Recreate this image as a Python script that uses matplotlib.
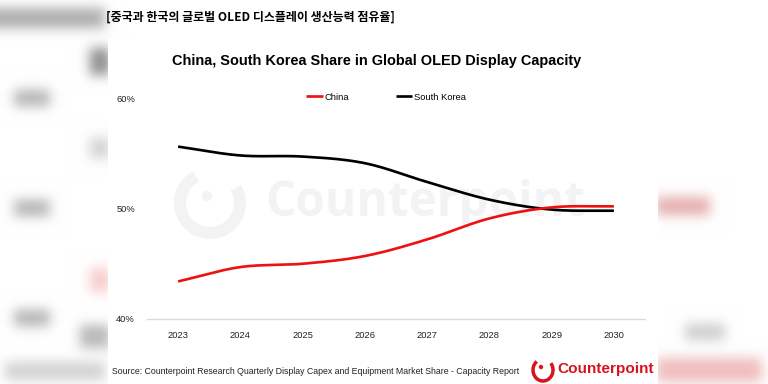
import numpy as np
import matplotlib
matplotlib.use("Agg")
import matplotlib.pyplot as plt
from matplotlib.patches import Rectangle, Arc, Ellipse

years = ["2023", "2024", "2025", "2026", "2027", "2028", "2029", "2030"]
china = [43.4, 44.7, 45.0, 45.7, 47.2, 49.1, 50.1, 50.2]
korea = [55.6, 54.8, 54.7, 54.1, 52.4, 50.8, 49.9, 49.8]
yticks = [40, 50, 60]
ytick_labels = ["40%", "50%", "60%"]

W, H = 768, 384
fig = plt.figure(figsize=(W / 96, H / 96), dpi=96)

# blurred background decoration
img = np.ones((H, W, 3))
blobs = [
    (0, 8, 105, 28, (0.68, 0.68, 0.68)),
    (14, 90, 50, 106, (0.7, 0.7, 0.7)),
    (14, 200, 50, 216, (0.7, 0.7, 0.7)),
    (14, 310, 50, 326, (0.7, 0.7, 0.7)),
    (90, 48, 110, 75, (0.55, 0.55, 0.55)),
    (90, 138, 110, 158, (0.82, 0.82, 0.82)),
    (90, 268, 110, 292, (0.97, 0.8, 0.8)),
    (80, 325, 110, 348, (0.72, 0.72, 0.72)),
    (5, 362, 105, 380, (0.82, 0.82, 0.82)),
    (656, 197, 710, 215, (0.9, 0.68, 0.68)),
    (685, 324, 725, 340, (0.8, 0.8, 0.8)),
    (656, 358, 762, 382, (0.94, 0.74, 0.74)),
]
for x0, y0, x1, y1, c in blobs:
    img[y0:y1, x0:x1] = c
R = 20
k = np.exp(-0.5 * (np.arange(-R, R + 1) / 6.0) ** 2)
k /= k.sum()
for ch in range(3):
    a = img[:, :, ch]
    a = np.apply_along_axis(lambda r: np.convolve(np.pad(r, R, mode="edge"), k, mode="valid"), 1, a)
    a = np.apply_along_axis(lambda r: np.convolve(np.pad(r, R, mode="edge"), k, mode="valid"), 0, a)
    img[:, :, ch] = a
fig.figimage(img, xo=0, yo=0, origin="upper", zorder=0)

def fx(px):
    return px / W

def fy(py):
    return 1 - py / H

# white panel
fig.patches.append(Rectangle((fx(108), 0), fx(658) - fx(108), fy(38), transform=fig.transFigure,
                             facecolor="white", edgecolor="none", zorder=1))

# watermark
wm = "#f3f3f3"
fig.patches.append(Arc((fx(210), fy(203)), 60 / W, 60 / H, theta1=105, theta2=410, transform=fig.transFigure,
                       edgecolor=wm, linewidth=9, zorder=1.5))
fig.patches.append(Ellipse((fx(207), fy(196)), 10 / W, 10 / H, transform=fig.transFigure,
                           facecolor=wm, edgecolor="none", zorder=1.5))
fig.text(fx(265), fy(203), "Counterpoint", fontsize=35.8, fontweight="bold", color=wm,
         family="Open Sans", va="center", ha="left", zorder=1.5)

# axes
ax = fig.add_axes([fx(147), fy(319), fx(645) - fx(147), fy(98) - fy(319)])
ax.set_facecolor("none")
ax.set_zorder(2)

def smooth(xs, ys, n=40):
    xs = np.asarray(xs, float); ys = np.asarray(ys, float)
    px = np.concatenate([[2 * xs[0] - xs[1]], xs, [2 * xs[-1] - xs[-2]]])
    py = np.concatenate([[2 * ys[0] - ys[1]], ys, [2 * ys[-1] - ys[-2]]])
    ox, oy = [], []
    for i in range(1, len(px) - 2):
        t = np.linspace(0, 1, n, endpoint=False)
        for P, out in ((px, ox), (py, oy)):
            p0, p1, p2, p3 = P[i - 1], P[i], P[i + 1], P[i + 2]
            b1 = p1 + (p2 - p0) / 6
            b2 = p2 - (p3 - p1) / 6
            out.extend((1 - t) ** 3 * p1 + 3 * (1 - t) ** 2 * t * b1 + 3 * (1 - t) * t ** 2 * b2 + t ** 3 * p2)
    ox.append(xs[-1]); oy.append(ys[-1])
    return np.array(ox), np.array(oy)

xi = np.arange(len(years))
sx, sy = smooth(xi, korea)
ax.plot(sx, sy, color="black", linewidth=2, label="South Korea", solid_capstyle="butt")
sx, sy = smooth(xi, china)
ax.plot(sx, sy, color="#ee1111", linewidth=2, label="China", solid_capstyle="butt")

ax.set_xlim(-0.5, len(years) - 0.5)
ax.set_ylim(40, 60)
ax.set_xticks(xi)
ax.set_xticklabels(years, fontsize=7, family="Liberation Sans", color="#222222")
ax.set_yticks(yticks)
ax.set_yticklabels(ytick_labels, fontsize=7, family="Liberation Sans", color="#222222")
ax.tick_params(length=0, pad=9)
for s in ["top", "right", "left"]:
    ax.spines[s].set_visible(False)
ax.spines["bottom"].set_color("#d9d9d9")
ax.spines["bottom"].set_linewidth(1)

h, l = ax.get_legend_handles_labels()
leg = fig.legend([h[1], h[0]], [l[1], l[0]], loc="center", bbox_to_anchor=(fx(386), fy(97)), ncol=2,
                 frameon=False, prop={"family": "Liberation Sans", "size": 7},
                 handlelength=1.8, handletextpad=0.15, columnspacing=5.0)

fig.text(fx(377), fy(61), "China, South Korea Share in Global OLED Display Capacity", fontsize=10.9,
         fontweight="bold", family="Liberation Sans", ha="center", va="center", zorder=3)
fig.text(fx(106), fy(17), "[중국과 한국의 글로벌 OLED 디스플레이 생산능력 점유율]", fontsize=9.0,
         fontweight="bold", family=["Noto Sans CJK KR", "DejaVu Sans"], ha="left", va="center", zorder=3)
fig.text(fx(112), fy(372), "Source: Counterpoint Research Quarterly Display Capex and Equipment Market Share - Capacity Report",
         fontsize=6.55, family="Liberation Sans", ha="left", va="center", color="#222222", zorder=3)

red = "#d7141f"
fig.patches.append(Arc((fx(543), fy(370)), 20 / W, 22 / H, theta1=110, theta2=420, transform=fig.transFigure,
                       edgecolor=red, linewidth=2.6, zorder=3))
fig.patches.append(Ellipse((fx(541), fy(367)), 4.4 / W, 4.4 / H, transform=fig.transFigure, facecolor=red,
                           edgecolor="none", zorder=3))
fig.text(fx(557), fy(369), "Counterpoint", fontsize=11.5, fontweight="bold", color=red,
         family="Liberation Sans", ha="left", va="center", zorder=3)

fig.savefig("out.png", dpi=96)
